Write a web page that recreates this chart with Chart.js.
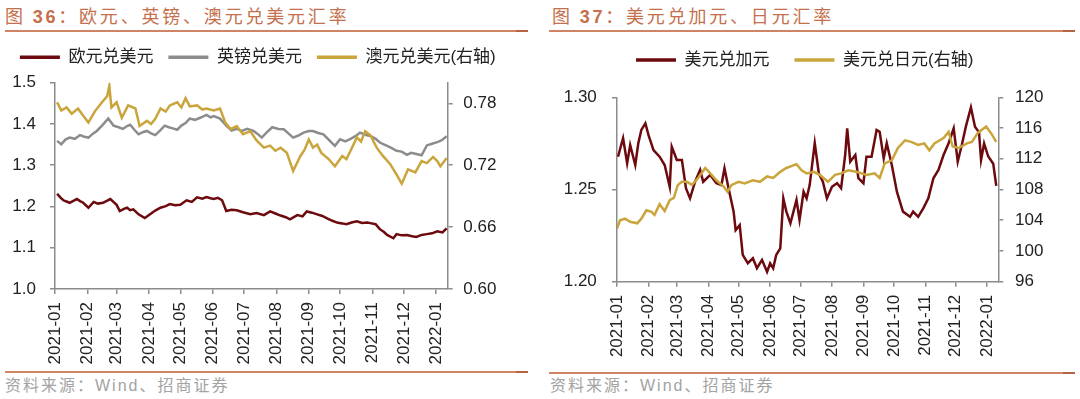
<!DOCTYPE html>
<html>
<head>
<meta charset="utf-8">
<script src="https://cdn.jsdelivr.net/npm/chart.js@4"></script>
<style>
html, body { margin: 0; padding: 0; background: #fff; }
body { width: 1080px; height: 399px; position: relative; overflow: hidden;
       font-family: "Liberation Sans", "Noto Sans CJK SC", sans-serif; }
.title { position: absolute; top: 3px; font-size: 18px; line-height: 24px; color: #c4704d;
         letter-spacing: 2.8px; white-space: nowrap; font-family: "Noto Sans CJK SC", sans-serif; }
.title b { font-family: "Liberation Sans", sans-serif; font-weight: bold; }
.rule { position: absolute; z-index: 10; display: block; height: 2px; background-color: #cf8466; }
.rule span { position: absolute; right: 0; top: 0; width: 12px; height: 2px; background-color: #b5643f; }
.src { position: absolute; top: 376px; font-size: 16px; line-height: 20px; color: #a3a3a3;
       letter-spacing: 2px; white-space: nowrap; }
.box { position: absolute; top: 20px; width: 540px; height: 350px; z-index: 1; }
</style>
</head>
<body>
<div class="title" style="left:5px">图 <b>36</b>：欧元、英镑、澳元兑美元汇率</div>
<div class="box" style="left:0"><canvas id="fxLeft" width="540" height="350"></canvas></div>
<div class="src" style="left:5px">资料来源：Wind、招商证券</div>

<div class="title" style="left:552px">图 <b>37</b>：美元兑加元、日元汇率</div>
<div class="box" style="left:540px"><canvas id="fxRight" width="540" height="350"></canvas></div>
<div class="src" style="left:550px">资料来源：Wind、招商证券</div>

<div class="rule" style="left:5px;top:30px;width:523px"><span></span></div>
<div class="rule" style="left:5px;top:371px;width:523px"><span></span></div>
<div class="rule" style="left:549px;top:30px;width:526px"><span></span></div>
<div class="rule" style="left:549px;top:372px;width:526px"><span></span></div>

<script>
// x axis: days since 2021-01-01, ticks on the first of each month
const monthDays = [0, 31, 59, 90, 120, 151, 181, 212, 243, 273, 304, 334, 365];
const monthLabels = ['2021-01', '2021-02', '2021-03', '2021-04', '2021-05', '2021-06', '2021-07',
                     '2021-08', '2021-09', '2021-10', '2021-11', '2021-12', '2022-01'];
const dayMax = 376;

// tick labels
const eurTicks = [1.0, 1.1, 1.2, 1.3, 1.4, 1.5];
const audTicks = [0.60, 0.66, 0.72, 0.78];
const cadTicks = [1.20, 1.25, 1.30];
const jpyTicks = [96, 100, 104, 108, 112, 116, 120];

// 欧元兑美元
const eurDays = [2, 5, 8, 11, 14, 18, 21, 24, 27, 32, 37, 41, 46, 50, 53, 59, 62, 66, 69, 72, 75, 80,
                 86, 91, 96, 101, 106, 110, 115, 120, 126, 131, 136, 141, 145, 149, 152, 156, 160, 164,
                 169, 174, 180, 187, 193, 200, 206, 211, 216, 221, 225, 232, 237, 241, 246, 251, 256,
                 260, 265, 270, 275, 279, 284, 289, 294, 299, 303, 307, 311, 315, 318, 324, 327, 332,
                 337, 342, 346, 351, 356, 361, 366, 371, 375];
const eurRate = [1.231, 1.222, 1.215, 1.212, 1.209, 1.214, 1.218, 1.213, 1.209, 1.197, 1.211, 1.207,
                 1.209, 1.214, 1.218, 1.204, 1.189, 1.194, 1.197, 1.191, 1.193, 1.181, 1.172, 1.181,
                 1.190, 1.197, 1.201, 1.206, 1.203, 1.204, 1.215, 1.211, 1.222, 1.219, 1.223, 1.220,
                 1.218, 1.221, 1.215, 1.189, 1.192, 1.191, 1.186, 1.181, 1.184, 1.179, 1.188, 1.183,
                 1.178, 1.174, 1.169, 1.179, 1.176, 1.188, 1.185, 1.181, 1.177, 1.172, 1.166, 1.161,
                 1.159, 1.157, 1.161, 1.164, 1.160, 1.161, 1.159, 1.157, 1.145, 1.138, 1.131, 1.123,
                 1.133, 1.130, 1.131, 1.128, 1.126, 1.131, 1.133, 1.135, 1.140, 1.137, 1.147];

// 英镑兑美元
const gbpDays = [2, 6, 10, 14, 19, 24, 28, 32, 36, 40, 45, 51, 56, 61, 65, 69, 72, 76, 80, 84, 88, 92,
                 96, 101, 105, 109, 112, 117, 121, 125, 129, 134, 139, 145, 149, 152, 158, 164, 169,
                 174, 179, 184, 190, 194, 198, 203, 208, 214, 219, 224, 228, 233, 238, 243, 247, 252,
                 257, 262, 268, 273, 278, 283, 288, 292, 297, 302, 307, 311, 318, 322, 327, 332, 337,
                 341, 346, 351, 356, 361, 366, 370, 375];
const gbpRate = [1.359, 1.351, 1.362, 1.367, 1.364, 1.373, 1.369, 1.367, 1.376, 1.383, 1.396, 1.413,
                 1.396, 1.392, 1.388, 1.395, 1.398, 1.386, 1.375, 1.380, 1.383, 1.377, 1.373, 1.385,
                 1.396, 1.392, 1.390, 1.386, 1.396, 1.402, 1.413, 1.410, 1.415, 1.422, 1.416, 1.419,
                 1.413, 1.396, 1.384, 1.388, 1.383, 1.388, 1.383, 1.376, 1.367, 1.380, 1.392, 1.388,
                 1.387, 1.376, 1.367, 1.372, 1.379, 1.383, 1.383, 1.378, 1.375, 1.362, 1.347, 1.363,
                 1.358, 1.364, 1.371, 1.379, 1.374, 1.371, 1.364, 1.355, 1.347, 1.342, 1.335, 1.333,
                 1.325, 1.330, 1.327, 1.324, 1.348, 1.352, 1.356, 1.360, 1.370];

// 澳元兑美元 (右轴)
const audDays = [2, 6, 11, 16, 22, 27, 32, 38, 45, 50, 52, 54, 59, 64, 70, 77, 81, 88, 92, 96, 101,
                 106, 110, 117, 121, 125, 129, 136, 141, 145, 152, 158, 163, 168, 174, 180, 187, 193,
                 200, 206, 211, 216, 222, 228, 235, 239, 243, 247, 251, 255, 262, 268, 275, 279, 283,
                 289, 293, 297, 302, 308, 314, 321, 327, 332, 338, 345, 351, 356, 362, 366, 369, 375];
const audRate = [0.781, 0.773, 0.776, 0.770, 0.775, 0.768, 0.7615, 0.772, 0.781, 0.787, 0.797, 0.776,
                 0.781, 0.766, 0.778, 0.775, 0.758, 0.763, 0.760, 0.765, 0.775, 0.772, 0.778, 0.781,
                 0.776, 0.785, 0.777, 0.778, 0.774, 0.775, 0.773, 0.775, 0.7615, 0.755, 0.758, 0.750,
                 0.753, 0.744, 0.737, 0.739, 0.734, 0.737, 0.732, 0.7145, 0.729, 0.735, 0.745, 0.737,
                 0.740, 0.732, 0.726, 0.719, 0.729, 0.726, 0.734, 0.747, 0.743, 0.753, 0.749, 0.737,
                 0.729, 0.721, 0.711, 0.702, 0.716, 0.713, 0.724, 0.722, 0.728, 0.724, 0.719, 0.727];

// 美元兑加元
const cadDays = [1, 6, 10, 13, 18, 21, 24, 28, 31, 36, 42, 47, 52, 54, 59, 64, 68, 72, 77, 82,
                 85, 92, 98, 103, 106, 110, 115, 117, 121, 124, 129, 134, 138, 143, 148, 151, 154, 157,
                 161, 164, 167, 171, 174, 177, 180, 184, 187, 190, 195, 199, 203, 207, 212, 217, 221,
                 225, 227, 230, 235, 238, 243, 246, 251, 256, 259, 263, 266, 271, 276, 282, 289, 292,
                 297, 302, 307, 312, 317, 322, 327, 332, 336, 340, 344, 349, 353, 357, 359, 362, 366,
                 371, 374];
const cadRate = [1.2678, 1.2778, 1.2642, 1.2741, 1.2633, 1.2751, 1.2823, 1.2859, 1.2796, 1.2714,
                 1.2678, 1.2633, 1.2515, 1.2732, 1.2660, 1.2660, 1.2507, 1.2452, 1.2542, 1.2606,
                 1.2542, 1.2579, 1.2534, 1.2524, 1.2615, 1.2507, 1.2380, 1.2280, 1.2307, 1.2145,
                 1.2100, 1.2127, 1.2073, 1.2118, 1.2054, 1.2100, 1.2073, 1.2145, 1.2181, 1.2452,
                 1.2380, 1.2317, 1.2380, 1.2443, 1.2335, 1.2488, 1.2452, 1.2524, 1.2751, 1.2588,
                 1.2542, 1.2452, 1.2515, 1.2534, 1.2507, 1.2687, 1.2832, 1.2651, 1.2687, 1.2561,
                 1.2534, 1.2678, 1.2678, 1.2823, 1.2813, 1.2669, 1.2751, 1.2633, 1.2488, 1.2380,
                 1.2352, 1.2380, 1.2352, 1.2398, 1.2452, 1.2561, 1.2606, 1.2687, 1.2751, 1.2832,
                 1.2651, 1.2741, 1.2841, 1.2945, 1.2840, 1.2810, 1.2660, 1.2750, 1.2680, 1.2640, 1.2520];

// 美元兑日元 (右轴)
const jpyDays = [0, 3, 8, 13, 20, 24, 29, 34, 37, 42, 47, 52, 56, 60, 64, 69, 74, 80, 87, 92,
                 98, 105, 109, 113, 120, 126, 134, 141, 148, 154, 161, 167, 177, 182, 187, 194, 200,
                 208, 215, 221, 228, 236, 246, 254, 259, 264, 271, 277, 284, 290, 297, 303, 308, 313,
                 322, 327, 331, 337, 345, 350, 356, 364, 369, 374];
const jpyRate = [102.9, 104.0, 104.2, 103.8, 103.6, 104.2, 105.3, 105.1, 104.7, 106.1, 105.2, 106.6,
                 106.9, 108.6, 109.0, 109.0, 108.6, 109.5, 110.8, 110.1, 109.2, 108.4, 107.7, 108.6,
                 109.0, 108.8, 109.2, 109.0, 109.7, 109.5, 110.3, 110.8, 111.3, 110.5, 110.1, 110.3,
                 109.9, 109.0, 109.9, 110.1, 110.5, 110.3, 109.9, 110.1, 109.5, 111.4, 111.8, 113.4,
                 114.4, 114.2, 113.8, 114.0, 113.1, 114.0, 114.7, 115.5, 113.6, 113.4, 114.0, 114.2,
                 115.4, 116.2, 115.3, 114.2];

const MAROON = '#6c0a0e';
const GREY = '#8c8c8c';
const GOLD = '#c9a53c';
const AXIS = '#8c8c8c';
const TEXT = '#222222';

Chart.defaults.font.family = '"Liberation Sans", "Noto Sans CJK SC", sans-serif';
Chart.defaults.color = TEXT;

function points(days, vals) {
    return days.map((d, i) => ({ x: d, y: vals[i] }));
}

function series(label, days, vals, color, axis, order) {
    return {
        label: label,
        data: points(days, vals),
        borderColor: color,
        backgroundColor: color,
        borderWidth: 2.5,
        pointRadius: 0,
        tension: 0,
        yAxisID: axis,
        order: order
    };
}

// push the plot area a bit further below the legend
function legendGap(px) {
    return {
        id: 'legendGap',
        beforeInit(chart) {
            const fit = chart.legend.fit;
            chart.legend.fit = function () {
                fit.call(this);
                this.height += px;
            };
        }
    };
}

function yAxis(position, ticks, digits, width, pad) {
    return {
        position: position,
        min: ticks[0],
        max: position === 'left' ? ticks[ticks.length - 1] : undefined,
        afterBuildTicks: s => { s.ticks = ticks.map(v => ({ value: v })); },
        ticks: { padding: pad, font: { size: 17 }, color: TEXT, callback: v => Number(v).toFixed(digits) },
        grid: { drawOnChartArea: false, tickLength: 5, color: AXIS, lineWidth: 1.5 },
        border: { color: AXIS, width: 1.5 },
        afterFit: s => { s.width = width; }
    };
}

function xAxis(height) {
    return {
        type: 'linear',
        min: 0,
        max: dayMax,
        afterBuildTicks: s => { s.ticks = monthDays.map(v => ({ value: v })); },
        ticks: {
            autoSkip: false, minRotation: 90, maxRotation: 90, padding: 8,
            font: { size: 17 }, color: TEXT,
            callback: (v, i) => monthLabels[i]
        },
        grid: { drawOnChartArea: false, tickLength: 5, color: AXIS, lineWidth: 1.5 },
        border: { color: AXIS, width: 1.5 },
        afterFit: s => { s.height = height; }
    };
}

function legendOpts(pad) {
    return {
        position: 'top',
        labels: {
            boxWidth: 40, boxHeight: 3.5, padding: pad, color: TEXT, font: { size: 17 },
            sort: (a, b) => a.datasetIndex - b.datasetIndex,
            generateLabels: chart => Chart.defaults.plugins.legend.labels.generateLabels(chart)
                .map(l => Object.assign(l, { lineWidth: 0 }))
        }
    };
}

// 图36: 欧元、英镑、澳元兑美元
const leftY1 = yAxis('right', audTicks, 2, 67.9, 10.6);
leftY1.max = 0.80;
new Chart(document.getElementById('fxLeft'), {
    type: 'line',
    data: {
        datasets: [
            series('欧元兑美元', eurDays, eurRate, MAROON, 'y', 1),
            series('英镑兑美元', gbpDays, gbpRate, GREY, 'y', 1),
            series('澳元兑美元(右轴)', audDays, audRate, GOLD, 'y1', 0)
        ]
    },
    options: {
        responsive: false,
        animation: false,
        layout: { padding: { top: 13.8, left: 0, right: 24.4, bottom: 0 } },
        plugins: { legend: legendOpts(15), tooltip: { enabled: false } },
        scales: {
            x: xAxis(81),
            y: yAxis('left', eurTicks, 1, 55, 14),
            y1: leftY1
        }
    },
    plugins: [legendGap(6.9)]
});

// 图37: 美元兑加元、日元
const rightY1 = yAxis('right', jpyTicks, 0, 71, 11.7);
rightY1.max = 120;
new Chart(document.getElementById('fxRight'), {
    type: 'line',
    data: {
        datasets: [
            series('美元兑加元', cadDays, cadRate, MAROON, 'y', 1),
            series('美元兑日元(右轴)', jpyDays, jpyRate, GOLD, 'y1', 0)
        ]
    },
    options: {
        responsive: false,
        animation: false,
        layout: { padding: { top: 6.5, left: 0, right: 10.7, bottom: 0 } },
        plugins: { legend: legendOpts(25), tooltip: { enabled: false } },
        scales: {
            x: xAxis(88.3),
            y: yAxis('left', cadTicks, 2, 77, 15.2),
            y1: rightY1
        }
    },
    plugins: [legendGap(18.8)]
});
</script>
</body>
</html>
